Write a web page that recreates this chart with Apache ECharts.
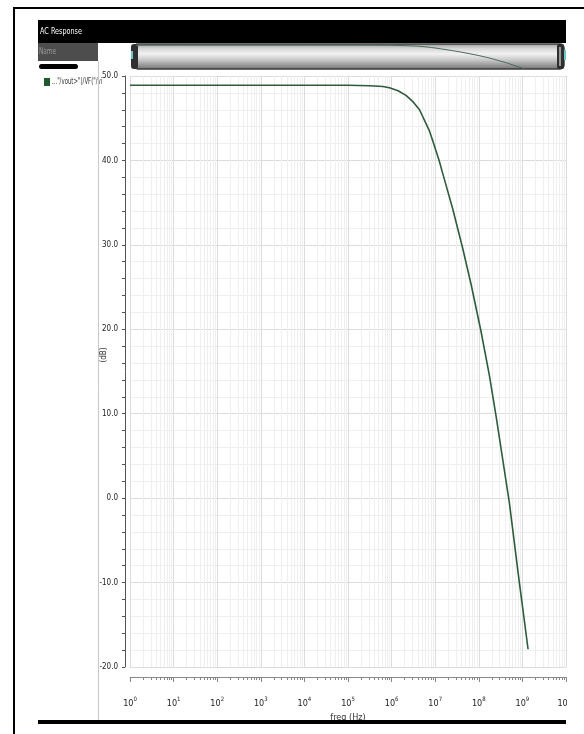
<!DOCTYPE html>
<html>
<head>
<meta charset="utf-8">
<script src="https://cdn.jsdelivr.net/npm/echarts@6/dist/echarts.min.js"></script>
<style>
html,body{margin:0;padding:0;background:#fff;}
#chart{width:584px;height:734px;}
</style>
</head>
<body>
<div id="chart"></div>
<script>
// ---- data ----
var freqHz = [1, 10, 100, 1e3, 1e4, 1e5, 3.16e5, 6.31e5, 8.9e5, 1.41e6, 2.14e6, 3.16e6, 4.37e6,
              7.24e6, 8.71e6, 1.23e7, 1.48e7, 2.51e7, 4.27e7, 6.61e7, 1.12e8, 1.74e8, 2.51e8,
              5.01e8, 8.32e8, 1.35e9];
var gainDb = [48.9, 48.9, 48.9, 48.9, 48.9, 48.9, 48.85, 48.75, 48.6, 48.25, 47.7, 46.9, 46.0,
              43.6, 42.4, 40.0, 38.5, 34.3, 29.6, 25.4, 19.8, 14.6, 9.6,
              -0.5, -9.6, -17.9];
var decadeTicks = [0, 1, 2, 3, 4, 5, 6, 7, 8, 9, 10];       // exponents of 10 shown on the freq axis
var yTicks = [-20, -10, 0, 10, 20, 30, 40, 50];
var seriesName = '..."/vout>")/VF("/vi';
var titleText = 'AC Response';
var xName = 'freq (Hz)';
var yName = '(dB)';

// ---- build ----
var FONT = "'Liberation Sans Narrow','DejaVu Sans Condensed','Liberation Sans',sans-serif";
var lineData = freqHz.map(function (f, i) { return [Math.log10(f), gainDb[i]]; });
var minorTicks = [];
for (var d = 0; d < 10; d++) {
  for (var k = 2; k <= 9; k++) minorTicks.push(d + Math.log10(k));
}

var chart = echarts.init(document.getElementById('chart'), null, {renderer: 'canvas'});
var option = {
  animation: false,
  backgroundColor: '#fff',
  grid: [
    {left: 130, right: 18, top: 76, bottom: 67},
    {left: 136, right: 22, top: 45, height: 23}
  ],
  xAxis: [
    {
      type: 'value', gridIndex: 0, min: decadeTicks[0], max: decadeTicks[decadeTicks.length - 1], interval: 1,
      position: 'bottom', offset: 10,
      name: xName, nameLocation: 'middle', nameGap: 31,
      nameTextStyle: {fontFamily: FONT, fontSize: 9, color: '#333'},
      axisLine: {show: true, onZero: false, lineStyle: {color: '#888', width: 1}},
      axisTick: {show: true, length: 5, lineStyle: {color: '#888'}},
      axisLabel: {
        margin: 19, color: '#222',
        formatter: function (v) { return '{b|10}{s|' + Math.round(v) + '}'; },
        rich: {
          b: {fontFamily: FONT, fontSize: 9, color: '#222', lineHeight: 12, verticalAlign: 'bottom'},
          s: {fontFamily: FONT, fontSize: 6, color: '#222', lineHeight: 12, verticalAlign: 'top'}
        }
      },
      splitLine: {show: true, lineStyle: {color: '#dcdcdc', width: 1}}
    },
    {
      type: 'value', gridIndex: 0, min: 0, max: 10,
      position: 'bottom', offset: 10,
      axisLine: {show: false, onZero: false},
      axisTick: {show: true, length: 3, customValues: minorTicks, lineStyle: {color: '#888'}},
      axisLabel: {show: false},
      splitLine: {show: true, lineStyle: {color: '#efefef', width: 1}}
    },
    {
      type: 'value', gridIndex: 1, min: 0, max: 10, show: false
    }
  ],
  yAxis: [
    {
      type: 'value', gridIndex: 0, min: yTicks[0], max: yTicks[yTicks.length - 1], interval: 10,
      offset: 5,
      axisLine: {show: true, onZero: false, lineStyle: {color: '#555', width: 1}},
      axisTick: {show: true, length: 3, lineStyle: {color: '#555'}},
      minorTick: {show: true, splitNumber: 5, length: 3, lineStyle: {color: '#555'}},
      axisLabel: {
        margin: 7, fontFamily: FONT, fontSize: 8, color: '#222',
        formatter: function (v) { return v.toFixed(1); }
      },
      splitLine: {show: true, lineStyle: {color: '#dcdcdc', width: 1}},
      minorSplitLine: {show: true, lineStyle: {color: '#efefef', width: 1}}
    },
    {
      type: 'value', gridIndex: 1, min: -15, max: 49.5, show: false
    }
  ],
  series: [
    {
      name: seriesName, type: 'line', xAxisIndex: 0, yAxisIndex: 0,
      data: lineData, showSymbol: false, smooth: false,
      lineStyle: {color: '#2e5b3d', width: 1.6, join: 'round'}, z: 5
    },
    {
      type: 'line', xAxisIndex: 2, yAxisIndex: 1,
      data: lineData, showSymbol: false, smooth: false, clip: true,
      lineStyle: {color: '#4d6b5a', width: 1}, z: 5
    }
  ],
  graphic: [
    // outer frame
    {type: 'rect', shape: {x: 14, y: 8, width: 640, height: 800}, style: {fill: null, stroke: '#000', lineWidth: 2}, z: 1},
    // header
    {type: 'rect', shape: {x: 38, y: 20, width: 528, height: 23}, style: {fill: '#000'}, z: 1},
    {type: 'text', x: 40, y: 32, scaleX: 0.8, style: {text: titleText, fill: '#fff', font: '9px ' + FONT, verticalAlign: 'middle'}, z: 2},
    // name bar
    {type: 'rect', shape: {x: 38, y: 43, width: 60, height: 18}, style: {fill: '#4d4d4d'}, z: 1},
    {type: 'text', x: 39, y: 52, scaleX: 0.8, style: {text: 'Name', fill: '#9a9a9a', font: '8px ' + FONT, verticalAlign: 'middle'}, z: 2},
    {type: 'rect', shape: {x: 39, y: 64, width: 39, height: 5, r: 2.5}, style: {fill: '#000'}, z: 1},
    // legend
    {type: 'rect', shape: {x: 44, y: 78, width: 6, height: 8}, style: {fill: '#1e5a2e'}, z: 1},
    {type: 'text', x: 52, y: 82, scaleX: 0.75, style: {text: seriesName, fill: '#333', font: '8px ' + FONT, verticalAlign: 'middle'}, z: 1},
    // left divider
    {type: 'line', shape: {x1: 98.5, y1: 61, x2: 98.5, y2: 720}, style: {stroke: '#c8c8c8', lineWidth: 1}, z: 3},
    // bottom black bar
    {type: 'rect', shape: {x: 38, y: 720, width: 528, height: 4}, style: {fill: '#000'}, z: 1},
    // scrollbar body
    {type: 'rect', shape: {x: 134, y: 44, width: 430, height: 25, r: 4},
      style: {
        fill: new echarts.graphic.LinearGradient(0, 0, 0, 1, [
          {offset: 0, color: '#9a9a9a'}, {offset: 0.2, color: '#d6d6d6'},
          {offset: 0.4, color: '#f2f2f2'}, {offset: 0.65, color: '#c4c4c4'},
          {offset: 1, color: '#6e6e6e'}
        ]),
        stroke: '#3c3c3c', lineWidth: 1.5
      }, z: 0},
    // scrollbar end caps
    {type: 'rect', shape: {x: 131, y: 44, width: 7, height: 25, r: 3}, style: {fill: '#2f2f2f'}, z: 0},
    {type: 'rect', shape: {x: 131, y: 51, width: 2, height: 8}, style: {fill: '#6cc6c6'}, z: 0},
    {type: 'rect', shape: {x: 557, y: 44, width: 7, height: 25, r: 2}, style: {fill: '#2f2f2f'}, z: 0},
    {type: 'rect', shape: {x: 559, y: 47, width: 2, height: 19}, style: {fill: '#9a9a9a'}, z: 0},
    {type: 'rect', shape: {x: 564, y: 50, width: 2, height: 10}, style: {fill: '#6cc6c6'}, z: 0},
    // y axis name
    {type: 'text', x: 104, y: 355, rotation: Math.PI / 2, style: {text: yName, fill: '#333', font: '8px ' + FONT, align: 'center', verticalAlign: 'middle'}, z: 1},
    // right crop of the original screenshot
    {type: 'rect', shape: {x: 567, y: 12, width: 20, height: 722}, style: {fill: '#fff'}, z: 100}
  ]
};
chart.setOption(option);
</script>
</body>
</html>
